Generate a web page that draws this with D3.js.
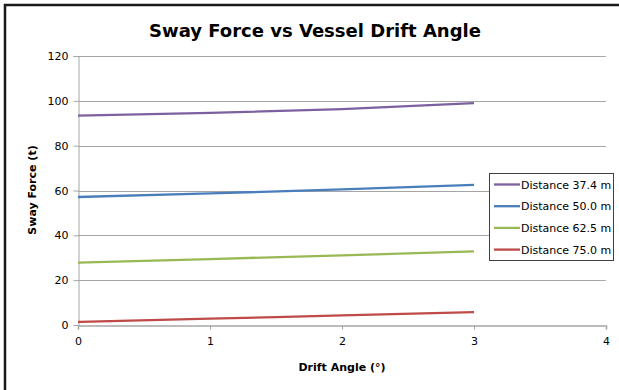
<!DOCTYPE html>
<html>
<head>
<meta charset="utf-8">
<script src="https://cdn.jsdelivr.net/npm/d3@7"></script>
<style>
  html, body { margin: 0; padding: 0; background: #fff; }
  svg { display: block; }
  text { font-family: "DejaVu Sans", Verdana, sans-serif; fill: #000; }
</style>
</head>
<body>
<svg id="chart" width="619" height="390"></svg>
<script>
// Drift angle (degrees) sampled for each stand-off distance
const driftAngles = [0, 1, 2, 3];
const seriesNames = ["Distance 37.4 m", "Distance 50.0 m", "Distance 62.5 m", "Distance 75.0 m"];
const sway374 = [93.4, 94.6, 96.3, 99.0];
const sway500 = [57.1, 58.7, 60.5, 62.5];
const sway625 = [27.8, 29.4, 31.1, 32.8];
const sway750 = [1.4, 2.8, 4.3, 5.7];
const seriesColors = ["#7d60a0", "#4a7ebb", "#98b954", "#be4b48"];
const xTicks = [0, 1, 2, 3, 4];
const yTicks = [0, 20, 40, 60, 80, 100, 120];

const series = [sway374, sway500, sway625, sway750].map((vals, i) => ({
  name: seriesNames[i],
  color: seriesColors[i],
  points: driftAngles.map((a, j) => ({ x: a, y: vals[j] }))
}));

const svg = d3.select("#chart");

// chart frame
svg.append("rect")
  .attr("x", 5).attr("y", 5)
  .attr("width", 700).attr("height", 500)
  .attr("fill", "#fff")
  .attr("stroke", "#1a1a1a").attr("stroke-width", 2.5);

const plot = { left: 78, right: 606, top: 56, bottom: 325 };
const x = d3.scaleLinear().domain([0, 4]).range([plot.left, plot.right]);
const y = d3.scaleLinear().domain([0, 120]).range([plot.bottom, plot.top]);

// horizontal gridlines
svg.append("g")
  .selectAll("line")
  .data(yTicks.filter(t => t > 0))
  .join("line")
  .attr("x1", plot.left).attr("x2", plot.right)
  .attr("y1", d => Math.round(y(d)) + 0.5).attr("y2", d => Math.round(y(d)) + 0.5)
  .attr("stroke", "#a6a6a6").attr("stroke-width", 1);

// y axis
const yAxis = svg.append("g")
  .attr("transform", `translate(${plot.left + 0.5},0)`)
  .call(d3.axisLeft(y).tickValues(yTicks).tickSize(5).tickPadding(5).tickFormat(d3.format("d")));
yAxis.select(".domain").attr("stroke", "#a6a6a6");
yAxis.selectAll(".tick line").attr("stroke", "#a6a6a6");
yAxis.selectAll(".tick text").style("font-size", "11px").attr("fill", "#000");

// x axis
const xAxis = svg.append("g")
  .attr("transform", `translate(0,${plot.bottom + 0.5})`)
  .call(d3.axisBottom(x).tickValues(xTicks).tickSize(4).tickPadding(8).tickFormat(d3.format("d")));
xAxis.select(".domain").attr("stroke", "#a6a6a6").attr("stroke-width", 1.5);
xAxis.selectAll(".tick line").attr("stroke", "#a6a6a6");
xAxis.selectAll(".tick text").style("font-size", "11px").attr("fill", "#000");

// series lines
const line = d3.line()
  .x(d => x(d.x))
  .y(d => y(d.y))
  .curve(d3.curveMonotoneX);

svg.append("g")
  .selectAll("path")
  .data(series)
  .join("path")
  .attr("d", d => line(d.points))
  .attr("fill", "none")
  .attr("stroke", d => d.color)
  .attr("stroke-width", 2.3)
  .attr("stroke-linecap", "butt");

// title
svg.append("text")
  .attr("x", 315).attr("y", 37)
  .attr("text-anchor", "middle")
  .style("font-size", "18px")
  .style("font-weight", "bold")
  .text("Sway Force vs Vessel Drift Angle");

// axis titles
svg.append("text")
  .attr("transform", "translate(36,190) rotate(-90)")
  .attr("text-anchor", "middle")
  .style("font-size", "11px")
  .style("font-weight", "bold")
  .text("Sway Force (t)");

svg.append("text")
  .attr("x", 342).attr("y", 371)
  .attr("text-anchor", "middle")
  .style("font-size", "11px")
  .style("font-weight", "bold")
  .text("Drift Angle (°)");

// legend
const legend = svg.append("g");
legend.append("rect")
  .attr("x", 489.5).attr("y", 173.5)
  .attr("width", 124).attr("height", 87)
  .attr("fill", "#fff")
  .attr("stroke", "#404040").attr("stroke-width", 1);

const rows = legend.selectAll("g.row")
  .data(series)
  .join("g")
  .attr("class", "row")
  .attr("transform", (d, i) => `translate(0,${184.5 + i * 21.7})`);
rows.append("line")
  .attr("x1", 494).attr("x2", 520)
  .attr("stroke", d => d.color).attr("stroke-width", 2.3);
rows.append("text")
  .attr("x", 521).attr("y", 4)
  .style("font-size", "11px")
  .text(d => d.name);
</script>
</body>
</html>
